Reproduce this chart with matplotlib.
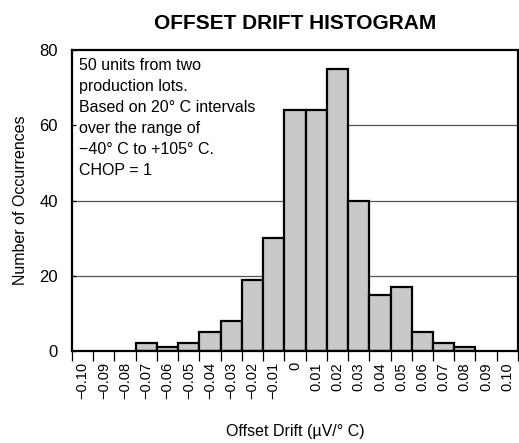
import numpy as np
import matplotlib.pyplot as plt
from matplotlib.patches import Rectangle

plt.rcParams['font.family'] = ['Liberation Sans', 'DejaVu Sans']

# histogram data: bin centres (uV/C) and counts per bin
bin_centers = [-0.10, -0.09, -0.08, -0.07, -0.06, -0.05, -0.04, -0.03, -0.02, -0.01, 0.0,
               0.01, 0.02, 0.03, 0.04, 0.05, 0.06, 0.07, 0.08, 0.09, 0.10]
counts = [0, 0, 0, 2, 1, 2, 5, 8, 19, 30, 64, 64, 75, 40, 15, 17, 5, 2, 1, 0, 0]
tick_labels = ['\u22120.10', '\u22120.09', '\u22120.08', '\u22120.07', '\u22120.06',
               '\u22120.05', '\u22120.04', '\u22120.03', '\u22120.02', '\u22120.01', '0',
               '0.01', '0.02', '0.03', '0.04', '0.05', '0.06', '0.07', '0.08', '0.09', '0.10']
y_ticks = [0, 20, 40, 60, 80]
bin_width = 0.01

note = ('50 units from two\nproduction lots.\nBased on 20\u00b0 C intervals\n'
        'over the range of\n\u221240\u00b0 C to +105\u00b0 C.\nCHOP = 1')

fig = plt.figure(figsize=(5.19, 4.43), dpi=100)
ax = fig.add_axes([0.1387, 0.2077, 0.8593, 0.6793])

# gridlines behind everything
for y in y_ticks[1:-1]:
    ax.axhline(y, color='#555555', lw=0.9, zorder=0)

# white panel behind the note hides the gridlines there
ax.add_patch(Rectangle((0, 0.535), 0.475, 0.465, transform=ax.transAxes,
                       facecolor='white', edgecolor='none', zorder=1))

centers = np.array(bin_centers)
cnt = np.array(counts)
nz = cnt > 0
ax.bar(centers[nz], cnt[nz], width=bin_width, align='center',
       color='#c8c9cb', edgecolor='black', linewidth=1.6, zorder=3)

edges = np.append(centers - bin_width / 2, centers[-1] + bin_width / 2)
ax.set_xlim(edges[0], edges[-1])
ax.set_ylim(0, 80)

# tick marks on the bin edges, labels at the bin centres
ax.set_xticks(edges)
ax.set_xticklabels([])
ax.set_xticks(centers, minor=True)
ax.set_xticklabels(tick_labels, minor=True, rotation=90, fontsize=10.5)
ax.tick_params(axis='x', which='major', direction='out', length=7, width=0.9)
ax.tick_params(axis='x', which='minor', length=0, pad=8)

ax.set_yticks(y_ticks)
ax.set_yticklabels([str(v) for v in y_ticks], fontsize=12)
ax.tick_params(axis='y', direction='in', length=3, width=0.9, pad=10)

for s in ax.spines.values():
    s.set_linewidth(1.6)
    s.set_zorder(5)

ax.text(0.015, 0.975, note, transform=ax.transAxes, va='top', ha='left',
        fontsize=11.5, linespacing=1.5, zorder=4)

ax.set_title('OFFSET DRIFT HISTOGRAM', fontsize=15, fontweight='bold', pad=15)
ax.set_ylabel('Number of Occurrences', fontsize=11.5, labelpad=8)
ax.set_xlabel('Offset Drift (\u00b5V/\u00b0 C)', fontsize=11.5, labelpad=18)

fig.savefig('out.png', dpi=100)
